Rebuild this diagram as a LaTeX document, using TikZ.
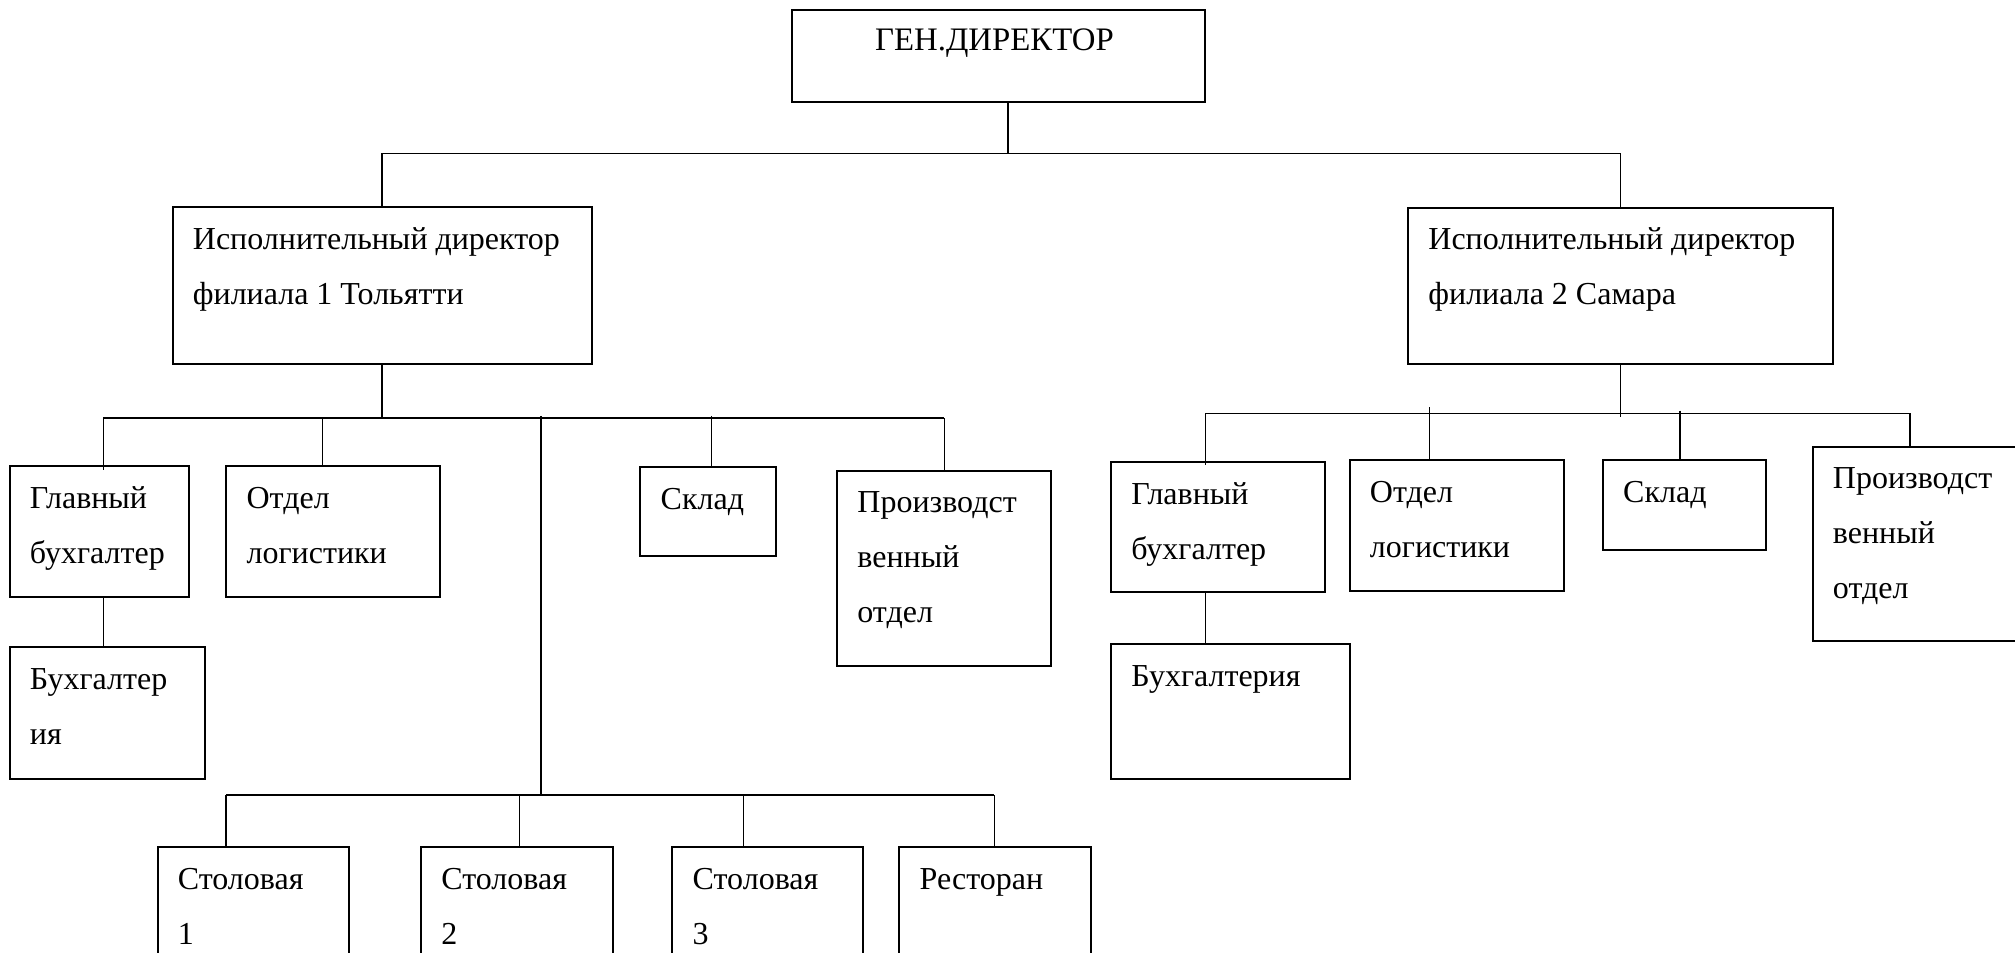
\documentclass[tikz,border=0pt]{standalone}
\usepackage{fontspec}
\setmainfont{Liberation Serif}
\usetikzlibrary{fit,calc}
\newcommand\orgbox[6]{%
  \node[boxst, fit={(#2,#3) (#4,#5)}] (#1) {};
  \node[lblst] (#1-t) at ($(#1.north west)+(21,4.5)$) {\strut #6};
}
\begin{document}
\begin{tikzpicture}[x=0.5pt,y=-0.5pt,
  boxst/.style={draw=black, line width=1pt, inner sep=0pt},
  lblst/.style={anchor=north west, inner sep=0pt, align=left, font=\fontsize{16}{27.5}\selectfont},
  conn/.style={draw=black, line width=0.75pt}]
\path[fill=white] (0,0) rectangle (2015,953);
\useasboundingbox (0,0) rectangle (2015,953);
\clip (0,0) rectangle (2015,953);

% top
\node[boxst, fit={(792,10) (1205,102)}] (gen) {};
\node[anchor=north, inner sep=0pt, font=\fontsize{16.4}{27.5}\selectfont] (gen-t) at ($(gen.north)+(-4,3)$) {\strut ГЕН.ДИРЕКТОР};

\orgbox{tol}{172.5}{207}{591.5}{364}{Исполнительный директор\\филиала 1 Тольятти}
\orgbox{sam}{1408}{207.5}{1833}{364}{Исполнительный директор\\филиала 2 Самара}

% Tolyatti branch
\orgbox{glbT}{9.6}{466}{189}{596.7}{Главный\\бухгалтер}
\orgbox{otlT}{226.2}{466}{440}{596.7}{Отдел\\логистики}
\orgbox{skT}{640.3}{467}{776}{556.3}{Склад}
\orgbox{prT}{837}{470.5}{1051}{665.5}{Производст\\венный\\отдел}
\orgbox{buhT}{9.6}{646.7}{205}{779}{Бухгалтер\\ия}
\orgbox{st1}{157.5}{847}{349.3}{985}{Столовая\\1}
\orgbox{st2}{421}{847}{612.7}{985}{Столовая\\2}
\orgbox{st3}{672.3}{847}{863.3}{985}{Столовая\\3}
\orgbox{rest}{899.3}{847}{1090.7}{985}{Ресторан}

% Samara branch
\orgbox{glbS}{1111}{461.7}{1325}{592.3}{Главный\\бухгалтер}
\orgbox{otlS}{1349.5}{460}{1563.5}{591}{Отдел\\логистики}
\orgbox{skS}{1602.8}{460}{1765.7}{550}{Склад}
\orgbox{prS}{1812.5}{446.5}{2040}{641}{Производст\\венный\\отдел}
\orgbox{buhS}{1111}{644}{1349.5}{779}{Бухгалтерия}

% level 1 connectors
\coordinate (b0) at (1008,153.5);
\draw[conn] (gen.south -| b0) -- (b0);
\draw[conn] (tol.north) -- (tol.north |- b0) -- (sam.north |- b0) -- (sam.north);

% Tolyatti connectors
\coordinate (tb) at (382,418);
\coordinate (td1) at (103.3,418);
\coordinate (td2) at (322.6,418);
\coordinate (td3) at (541,418);
\coordinate (td4) at (711.3,418);
\coordinate (td5) at (944.3,418);
\draw[conn] (tol.south) -- (tb);
\draw[conn] (td1) -- (td5);
\draw[conn, shorten >=-2.3pt] (td1) -- (glbT.north -| td1);
\draw[conn] (td2) -- (otlT.north -| td2);
\draw[conn, shorten <=-1.1pt] (td4) -- (skT.north -| td4);
\draw[conn] (td5) -- (prT.north -| td5);
\draw[conn] (glbT.south -| td1) -- (buhT.north -| td1);

\coordinate (sb) at (541,795);
\coordinate (sd1) at (226,795);
\coordinate (sd2) at (519.3,795);
\coordinate (sd3) at (743.3,795);
\coordinate (sd4) at (994.3,795);
\draw[conn, shorten <=-1.1pt] (td3) -- (sb);
\draw[conn] (sd1) -- (sd4);
\draw[conn] (sd1) -- (st1.north -| sd1);
\draw[conn] (sd2) -- (st2.north -| sd2);
\draw[conn] (sd3) -- (st3.north -| sd3);
\draw[conn] (sd4) -- (rest.north -| sd4);

% Samara connectors
\coordinate (mb) at (1620.5,413.3);
\coordinate (md1) at (1205.6,413.3);
\coordinate (md2) at (1429.5,413.3);
\coordinate (md3) at (1679.8,413.3);
\coordinate (md4) at (1910,413.3);
\draw[conn, shorten >=-1.7pt] (sam.south) -- (mb);
\draw[conn] (md1) -- (md4);
\draw[conn, shorten >=-2.2pt] (md1) -- (glbS.north -| md1);
\draw[conn, shorten <=-3pt] (md2) -- (otlS.north -| md2);
\draw[conn, shorten <=-1.3pt] (md3) -- (skS.north -| md3);
\draw[conn] (md4) -- (prS.north -| md4);
\draw[conn] (glbS.south -| md1) -- (buhS.north -| md1);
\end{tikzpicture}
\end{document}
